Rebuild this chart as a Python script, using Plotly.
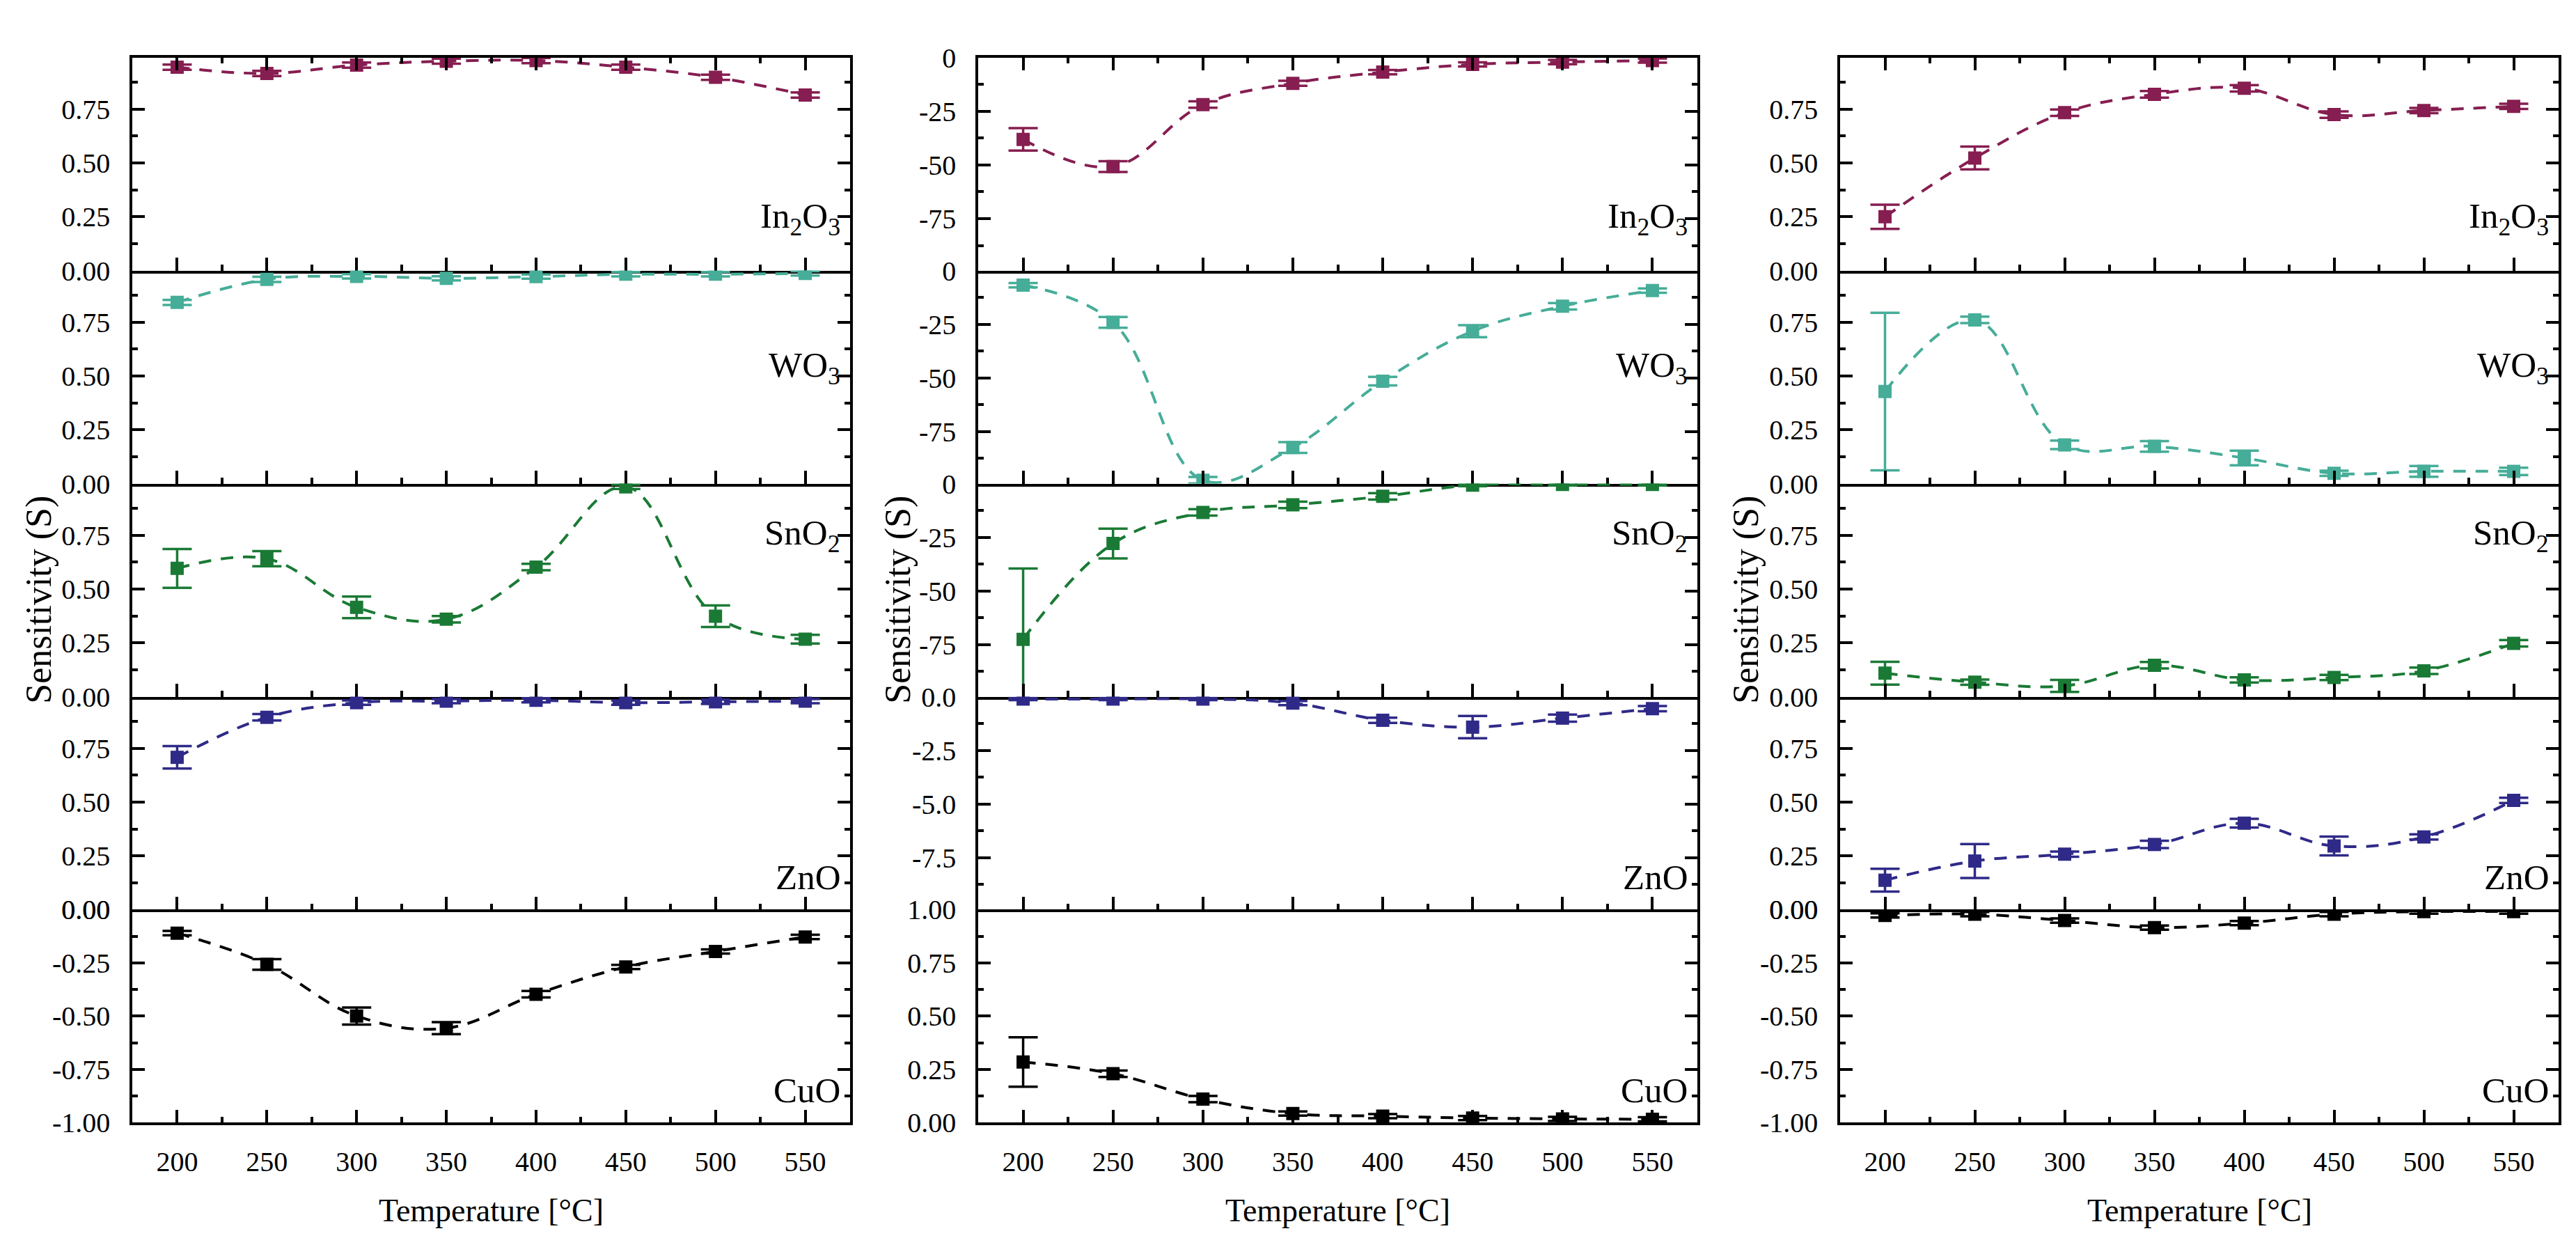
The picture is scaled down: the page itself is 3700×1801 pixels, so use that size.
import plotly.graph_objects as go

temps = [200, 250, 300, 350, 400, 450, 500, 550]
temp_labels = ["200", "250", "300", "350", "400", "450", "500", "550"]

# left column
in2o3_a = [0.945, 0.916, 0.955, 0.973, 0.976, 0.945, 0.898, 0.816]
in2o3_a_err = [0.012, 0.012, 0.012, 0.012, 0.012, 0.012, 0.012, 0.012]
wo3_a = [0.842, 0.949, 0.963, 0.954, 0.962, 0.973, 0.973, 0.977]
wo3_a_err = [0.012, 0.012, 0.01, 0.01, 0.01, 0.01, 0.01, 0.01]
sno2_a = [0.596, 0.641, 0.415, 0.36, 0.602, 0.975, 0.374, 0.267]
sno2_a_err = [0.09, 0.035, 0.05, 0.015, 0.015, 0.01, 0.05, 0.02]
zno_a = [0.708, 0.894, 0.962, 0.969, 0.973, 0.962, 0.966, 0.969]
zno_a_err = [0.052, 0.015, 0.01, 0.01, 0.01, 0.01, 0.01, 0.01]
cuo_a = [-0.11, -0.257, -0.499, -0.556, -0.397, -0.269, -0.196, -0.128]
cuo_a_err = [0.01, 0.025, 0.04, 0.028, 0.015, 0.01, 0.01, 0.01]

# middle column
in2o3_b = [-38.1, -50.8, -21.9, -12.0, -6.8, -3.2, -2.1, -1.4]
in2o3_b_err = [5.2, 2.5, 1.5, 1.2, 1.0, 1.0, 1.0, 1.0]
wo3_b = [-6.8, -24.1, -97.6, -82.4, -51.5, -28.2, -16.6, -9.3]
wo3_b_err = [1.0, 2.5, 1.5, 2.5, 2.0, 2.8, 1.5, 1.0]
sno2_b = [-72.5, -27.9, -13.4, -9.9, -5.9, -0.7, -0.4, -0.4]
sno2_b_err = [33.0, 6.9, 1.5, 1.5, 1.5, 0.5, 0.5, 0.5]
zno_b = [-0.11, -0.11, -0.11, -0.30, -1.10, -1.42, -1.0, -0.56]
zno_b_err = [0.05, 0.05, 0.05, 0.1, 0.12, 0.52, 0.17, 0.12]
cuo_b = [0.285, 0.23, 0.111, 0.043, 0.031, 0.022, 0.018, 0.016]
cuo_b_err = [0.116, 0.015, 0.015, 0.01, 0.01, 0.01, 0.01, 0.01]

# right column
in2o3_c = [0.25, 0.523, 0.734, 0.819, 0.847, 0.725, 0.744, 0.763]
in2o3_c_err = [0.056, 0.053, 0.015, 0.015, 0.015, 0.015, 0.012, 0.012]
wo3_c = [0.428, 0.761, 0.18, 0.173, 0.119, 0.048, 0.057, 0.057]
wo3_c_err = [0.366, 0.015, 0.02, 0.025, 0.034, 0.012, 0.025, 0.017]
sno2_c = [0.109, 0.067, 0.05, 0.146, 0.078, 0.089, 0.12, 0.248]
sno2_c_err = [0.053, 0.012, 0.028, 0.015, 0.012, 0.012, 0.015, 0.015]
zno_c = [0.137, 0.226, 0.258, 0.303, 0.402, 0.296, 0.338, 0.508]
zno_c_err = [0.053, 0.079, 0.012, 0.017, 0.02, 0.044, 0.012, 0.012]
cuo_c = [-0.027, -0.021, -0.051, -0.084, -0.063, -0.021, -0.009, -0.009]
cuo_c_err = [0.01, 0.01, 0.01, 0.01, 0.01, 0.01, 0.01, 0.01]

materials = ["In<sub>2</sub>O<sub>3</sub>", "WO<sub>3</sub>", "SnO<sub>2</sub>", "ZnO", "CuO"]

# y tick sets
pos_vals = [0, 0.25, 0.5, 0.75]
pos_text = ["0.00", "0.25", "0.50", "0.75"]
neg_vals = [0, -0.25, -0.5, -0.75, -1]
neg_text = ["0.00", "-0.25", "-0.50", "-0.75", "-1.00"]
big_vals = [0, -25, -50, -75]
big_text = ["0", "-25", "-50", "-75"]
zno_b_vals = [0, -2.5, -5, -7.5]
zno_b_text = ["0.0", "-2.5", "-5.0", "-7.5"]
cuo_b_vals = [0, 0.25, 0.5, 0.75, 1]
cuo_b_text = ["0.00", "0.25", "0.50", "0.75", "1.00"]

colors = ["#861E51", "#46AD98", "#1A7A35", "#2F2A88", "#000000"]

columns = [
    [(in2o3_a, in2o3_a_err), (wo3_a, wo3_a_err), (sno2_a, sno2_a_err),
     (zno_a, zno_a_err), (cuo_a, cuo_a_err)],
    [(in2o3_b, in2o3_b_err), (wo3_b, wo3_b_err), (sno2_b, sno2_b_err),
     (zno_b, zno_b_err), (cuo_b, cuo_b_err)],
    [(in2o3_c, in2o3_c_err), (wo3_c, wo3_c_err), (sno2_c, sno2_c_err),
     (zno_c, zno_c_err), (cuo_c, cuo_c_err)],
]

# (range, tickvals, ticktext, minor step) per panel
axes_spec = [
    [([0, 0.99], pos_vals, pos_text, 0.125)] * 4 + [([-1, 0], neg_vals, neg_text, 0.125)],
    [([-99.2, 0], big_vals, big_text, 12.5)] * 3
    + [([-9.92, 0], zno_b_vals, zno_b_text, 1.25), ([0, 1], cuo_b_vals, cuo_b_text, 0.125)],
    [([0, 0.99], pos_vals, pos_text, 0.125)] * 4 + [([-1, 0], neg_vals, neg_text, 0.125)],
]

# label height inside each panel (fraction from the bottom)
label_pos = [0.245, 0.545, 0.758, 0.152, 0.153]

W, H = 3700, 1801
x_dom = [(182 / W, 1213 / W), (1397 / W, 2430 / W), (2635 / W, 3667 / W)]
top, bottom = 1 - 54 / H, 1 - 1623 / H
ph = (top - bottom) / 5
y_dom = [(top - (r + 1) * ph, top - r * ph) for r in range(5)]

serif = "Liberation Serif"

fig = go.Figure()
layout = {}
annotations = []

for c in range(3):
    for r in range(5):
        k = c * 5 + r + 1
        sfx = "" if k == 1 else str(k)
        yvals, yerr = columns[c][r]
        fig.add_trace(
            go.Scatter(
                x=temps,
                y=yvals,
                xaxis="x" + sfx,
                yaxis="y" + sfx,
                mode="lines+markers",
                line=dict(color=colors[r], width=4, dash="18px,14px", shape="spline", smoothing=1.1),
                marker=dict(symbol="square", size=19, color=colors[r]),
                error_y=dict(type="data", array=yerr, visible=True, color=colors[r],
                             thickness=3.5, width=21),
                showlegend=False,
            )
        )
        yrange, tvals, ttext, mstep = axes_spec[c][r]
        layout["xaxis" + sfx] = dict(
            domain=list(x_dom[c]), anchor="y" + sfx, range=[175, 575],
            tickmode="array", tickvals=temps, ticktext=temp_labels,
            ticks="inside", ticklen=19, tickwidth=3.5, tickcolor="black",
            minor=dict(ticks="inside", ticklen=9, tickwidth=3.5, tickcolor="black",
                       tickmode="linear", tick0=200, dtick=25),
            showline=True, linewidth=3.5, linecolor="black",
            mirror="ticks" if r == 0 else False,
            showticklabels=(r == 4), showgrid=False, zeroline=False,
            tickfont=dict(family=serif, size=40, color="black"),
            ticklabelstandoff=18,
        )
        layout["yaxis" + sfx] = dict(
            domain=list(y_dom[r]), anchor="x" + sfx, range=yrange,
            tickmode="array", tickvals=tvals, ticktext=ttext,
            ticks="inside", ticklen=18, tickwidth=3.5, tickcolor="black",
            minor=dict(ticks="inside", ticklen=8, tickwidth=3.5, tickcolor="black",
                       tickmode="linear", tick0=0, dtick=mstep),
            showline=True, linewidth=3.5, linecolor="black", mirror="ticks",
            showgrid=False, zeroline=False,
            tickfont=dict(family=serif, size=40, color="black"),
            ticklabelstandoff=20,
        )
        annotations.append(dict(
            text=materials[r], xref="paper", yref="paper",
            x=x_dom[c][1], xanchor="right", xshift=-12,
            y=y_dom[r][0] + label_pos[r] * ph, yanchor="middle",
            showarrow=False, font=dict(family=serif, size=51, color="black"),
        ))

title_x = [48 / W, 1282 / W, 2500 / W]
for c in range(3):
    annotations.append(dict(
        text="Sensitivity (S)", xref="paper", yref="paper",
        x=title_x[c], y=1 - 853 / H, textangle=-90,
        xanchor="center", yanchor="middle", showarrow=False,
        font=dict(family=serif, size=52, color="black"),
    ))
    annotations.append(dict(
        text="Temperature [°C]", xref="paper", yref="paper",
        x=(x_dom[c][0] + x_dom[c][1]) / 2, y=1 - 1752 / H,
        xanchor="center", yanchor="middle", showarrow=False,
        font=dict(family=serif, size=46, color="black"),
    ))

fig.update_layout(
    width=W, height=H,
    margin=dict(l=0, r=0, t=0, b=0),
    paper_bgcolor="white", plot_bgcolor="white",
    annotations=annotations,
    **layout,
)

fig.write_html("out.html")
